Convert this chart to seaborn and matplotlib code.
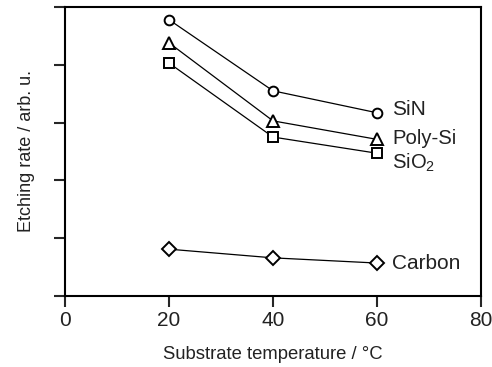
import matplotlib
matplotlib.use("Agg")
import matplotlib.pyplot as plt
import seaborn as sns
import pandas as pd

temperature = [20, 40, 60]
sin_rate = [4.78, 3.55, 3.17]
polysi_rate = [4.38, 3.03, 2.71]
sio2_rate = [4.03, 2.75, 2.47]
carbon_rate = [0.81, 0.66, 0.57]
series_names = ["SiN", "Poly-Si", "SiO$_2$", "Carbon"]
markers = ["o", "^", "s", "D"]
x_ticks = [0, 20, 40, 60, 80]

sns.set_style("white")
plt.rcParams['font.family'] = ['Liberation Sans', 'DejaVu Sans']
plt.rcParams['mathtext.fontset'] = 'custom'
plt.rcParams['mathtext.rm'] = 'Liberation Sans'

fig = plt.figure(figsize=(4.92, 3.67), dpi=100)
ax = fig.add_axes([65/492, 1-296/367, (481-65)/492, (296-7)/367])

rates = [sin_rate, polysi_rate, sio2_rate, carbon_rate]
msizes = [7, 8.5, 7, 7]
label_dy = [0.05, 0.01, -0.17, 0.0]
label_fs = [15, 14.6, 14.6, 15]
for name, vals, mk, ms, dy, fs in zip(series_names, rates, markers, msizes, label_dy, label_fs):
    df = pd.DataFrame({"T": temperature, "rate": vals})
    sns.lineplot(data=df, x="T", y="rate", ax=ax, color="black", lw=0.9,
                 marker=mk, markersize=ms, markerfacecolor="white",
                 markeredgecolor="black", markeredgewidth=1.4)
    ax.text(temperature[-1] + 2.9, vals[-1] + dy,
            name, fontsize=fs, va="center", ha="left", color="#222222")

ax.set_xlim(0, 80)
ax.set_ylim(0, 5)
ax.set_xticks(x_ticks)
ax.set_yticks([0, 1, 2, 3, 4, 5])
ax.set_yticklabels([])
ax.tick_params(axis="x", direction="out", length=8, width=1.5, labelsize=15,
               bottom=True, pad=3, labelcolor="#222222")
ax.tick_params(axis="y", direction="out", length=8, width=1.5, left=True)
for s in ax.spines.values():
    s.set_color("black")
    s.set_linewidth(1.5)
ax.set_xlabel("Substrate temperature / °C", fontsize=13.3, labelpad=11, color="#222222")
ax.set_ylabel("Etching rate / arb. u.", fontsize=13.0, labelpad=10, color="#222222")

fig.savefig("out.png", dpi=100)
